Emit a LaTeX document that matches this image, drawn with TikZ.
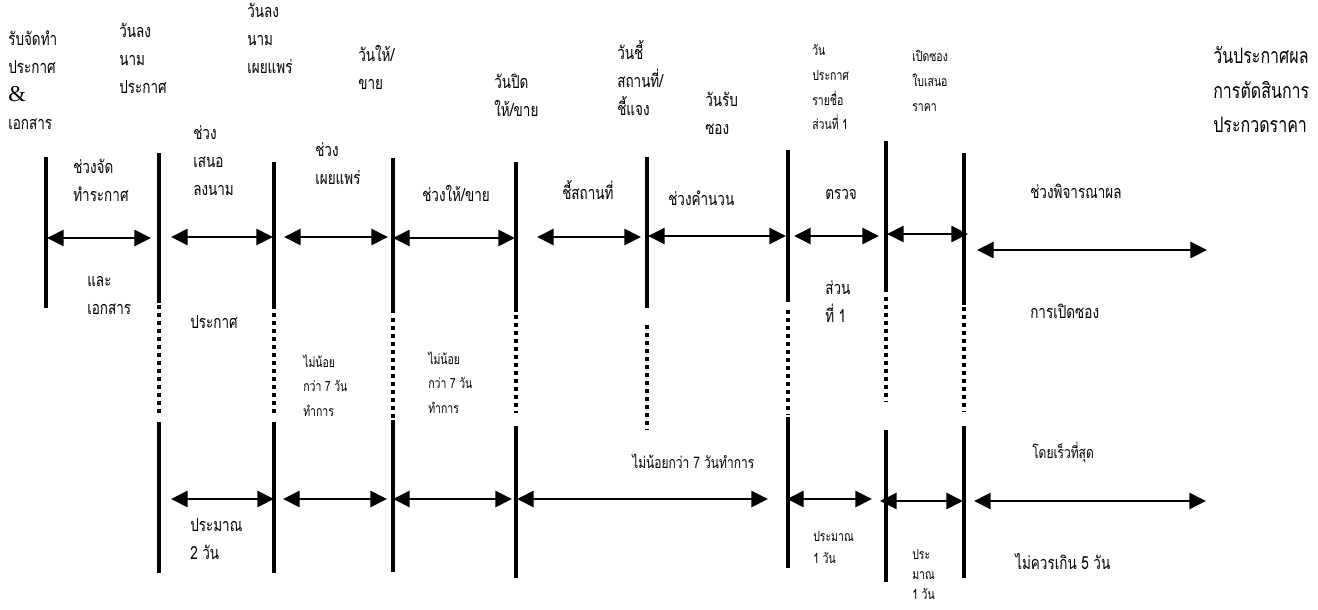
\documentclass[tikz,border=0pt]{standalone}
\usepackage{fontspec}
\newfontfamily\thaifont[Script=Thai,FakeStretch=0.75]{Loma}
\newfontfamily\ampfont{Liberation Serif}
\usetikzlibrary{arrows.meta}
\tikzset{
  bar/.style={line width=3pt},
  dotbar/.style={line width=3pt,dash pattern=on 3pt off 3pt},
  span/.style={{Triangle[length=12.5pt,width=12pt]}-{Triangle[length=12.5pt,width=12pt]},line width=2pt},
  txt/.style={align=left,anchor=north west,inner sep=0pt,execute at begin node=\strut},
  lbl/.style={txt,font=\thaifont\fontsize{13.5}{21}\selectfont,yshift=11pt},
  mid/.style={txt,font=\thaifont\fontsize{12}{20}\selectfont,yshift=10.5pt},
  sml/.style={txt,font=\thaifont\fontsize{10.5}{18.5}\selectfont,yshift=9.5pt},
  tiny/.style={txt,font=\thaifont\fontsize{10.5}{16.5}\selectfont,yshift=3.5pt},
  big/.style={txt,font=\thaifont\fontsize{16}{26}\selectfont,yshift=14pt},
}
\begin{document}
\begin{tikzpicture}[x=0.75pt,y=-0.75pt]
  \useasboundingbox (0,0) rectangle (1318,610);

  % time markers: solid, dotted gap, solid
  \draw[bar] (46,157) -- (46,308);
  \foreach \x/\a/\b/\c/\d/\e/\f in {159/153/303/305/415/422/573,
      274/162/309/313/413/422/573, 393/158/313/318/418/420/572,
      516/162/312/315/413/426/578, 788/150/302/310/415/417/568,
      886/141/292/297/402/430/582, 964/153/305/307/412/426/578}
  {
    \draw[bar] (\x,\a) -- (\x,\b);
    \draw[dotbar] (\x,\c) -- (\x,\d);
    \draw[bar] (\x,\e) -- (\x,\f);
  }
  \draw[bar] (647,157) -- (647,308);
  \draw[dotbar] (647,325) -- (647,430);

  % upper spans
  \foreach \n/\xa/\xb/\y in {1/47/151/238, 2/171/273/237, 3/284/388/237,
      4/393/515/238, 5/537/641/237, 6/648/786/236, 7/794/879/236,
      8/887/968/234, 9/977/1207/250}
  {
    \coordinate (up\n l) at (\xa,\y);
    \coordinate (up\n r) at (\xb,\y);
    \draw[span] (up\n l) -- (up\n r);
  }
  % lower spans
  \foreach \n/\xa/\xb/\y in {1/171/274/499, 2/283/387/499, 3/393/512/499,
      4/517/768/499, 5/787/872/499, 6/880/963/501, 7/974/1206/501}
  {
    \coordinate (lo\n l) at (\xa,\y);
    \coordinate (lo\n r) at (\xb,\y);
    \draw[span] (lo\n l) -- (lo\n r);
  }

  % dates
  \node[lbl] (rcv)   at (8,45)    {รับจัดทำ\\ประกาศ\\{\ampfont\fontsize{17}{21}\selectfont\&}\\เอกสาร};
  \node[lbl] (sgnA)  at (119,38)  {วันลง\\นาม\\ประกาศ};
  \node[lbl] (sgnB)  at (247,18)  {วันลง\\นาม\\เผยแพร่};
  \node[lbl] (sell)  at (358,60)  {วันให้/\\ขาย};
  \node[lbl] (close) at (494,88)  {วันปิด\\ให้/ขาย};
  \node[lbl] (site)  at (617,55)  {วันชี้\\สถานที่/\\ชี้แจง};
  \node[lbl] (env)   at (705,107) {วันรับ\\ซอง};
  \node[sml] (list)  at (812,57)  {วัน\\ประกาศ\\รายชื่อ\\ส่วนที่ 1};
  \node[sml] (open)  at (912,63)  {เปิดซอง\\ใบเสนอ\\ราคา};
  \node[big] (res)   at (1213,65) {วันประกาศผล\\การตัดสินการ\\ประกวดราคา};

  % periods
  \node[lbl] (pPrep) at (73,174)   {ช่วงจัด\\ทำระกาศ};
  \node[lbl] (pSign) at (193,140)  {ช่วง\\เสนอ\\ลงนาม};
  \node[lbl] (pPub)  at (315,157)  {ช่วง\\เผยแพร่};
  \node[lbl] (pSell) at (422,196)  {ช่วงให้/ขาย};
  \node[lbl] (pSite) at (562,194)  {ชี้สถานที่};
  \node[lbl] (pCalc) at (668,200)  {ช่วงคำนวน};
  \node[lbl] (pChk)  at (825,194)  {ตรวจ};
  \node[lbl] (pCons) at (1030,193) {ช่วงพิจารณาผล};
  \node[lbl] (nDoc)  at (87,291)   {และ\\เอกสาร};
  \node[lbl] (nAnn)  at (190,323)  {ประกาศ};
  \node[sml] (nPub)  at (303,367)  {ไม่น้อย\\กว่า 7 วัน\\ทำการ};
  \node[sml] (nSell) at (428,364)  {ไม่น้อย\\กว่า 7 วัน\\ทำการ};
  \node[lbl] (nPart) at (825,295)  {ส่วน\\ที่ 1};
  \node[lbl] (nOpen) at (1030,313) {การเปิดซอง};

  % durations
  \node[mid]  (dCalc) at (632,464)  {ไม่น้อยกว่า 7 วันทำการ};
  \node[mid]  (dFast) at (1032,454) {โดยเร็วที่สุด};
  \node[lbl]  (dSign) at (190,533)  {ประมาณ\\2 วัน};
  \node[tiny] (dChk)  at (813,536)  {ประมาณ\\1 วัน};
  \node[tiny,font=\thaifont\fontsize{10.5}{15}\selectfont] (dOpen) at (912,554) {ประ\\มาณ\\1 วัน};
  \node[lbl]  (dCons) at (1015,564) {ไม่ควรเกิน 5 วัน};
\end{tikzpicture}
\end{document}
